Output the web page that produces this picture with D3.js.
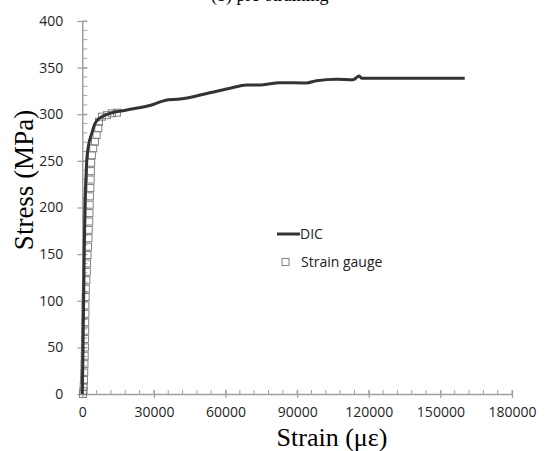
<!DOCTYPE html>
<html><head><meta charset="utf-8">
<script src="https://cdn.jsdelivr.net/npm/d3@7"></script>
<style>body{margin:0;background:#fff}</style>
</head><body>
<svg id="chart" width="547" height="451"></svg>
<script>
const xTicks = [0, 30000, 60000, 90000, 120000, 150000, 180000];
const yTicks = [0, 50, 100, 150, 200, 250, 300, 350, 400];
const dicStrain = [0, 300, 550, 800, 1100, 1500, 1850, 2500, 3900, 5300, 7400, 11600, 18600, 29700, 33000, 36000, 40000, 53400, 61800, 68800, 75000, 82700, 93900, 98100, 106500, 113400, 116000, 117000, 160200];
const dicStress = [0, 50, 100, 150, 200, 230, 250, 265, 279, 290, 296, 301, 304.5, 310.5, 313.5, 315.5, 316, 323, 327.8, 331.4, 331.5, 333.8, 333.5, 336, 337.6, 337, 341, 338.5, 338.5];
const gaugeStrain = [300, 500, 600, 700, 800, 900, 1000, 1100, 1100, 1200, 1200, 1300, 1300, 1400, 1500, 1700, 1900, 2000, 2200, 2400, 2600, 2700, 2900, 3000, 3100, 3200, 3400, 3500, 3600, 3700, 4000, 4600, 5300, 6000, 6700, 7000, 8200, 10300, 12400, 14500];
const gaugeStress = [0, 3, 8, 15, 23, 32, 41, 50, 59, 68, 77, 86, 95, 104, 113, 122, 131, 140, 149, 158, 167, 176, 185, 194, 203, 212, 221, 230, 239, 248, 256, 263.5, 270.5, 277.7, 285, 292, 297.4, 299, 301, 301.7];
const seriesNames = ["DIC", "Strain gauge"];

const svg = d3.select("#chart");
const x = d3.scaleLinear().domain([0, 180000]).range([82.3, 512]);
const y = d3.scaleLinear().domain([0, 400]).range([394, 21]);
const axisColor = "#a0a0a0";
const sans = "Open Sans, Liberation Sans, Arial, sans-serif";
const serif = "Liberation Serif, Times New Roman, serif";

// partially visible caption at top
svg.append("text").attr("x", 211).attr("y", 0.5)
  .attr("font-family", serif).attr("font-size", 18)
  .attr("fill", "#000").text("(b) pre-straining");

// minor ticks
const xMinor = d3.range(0, 180001, 6000);
const yMinor = d3.range(0, 401, 10);
const g = svg.append("g");
g.selectAll("line.xm").data(xMinor).join("line")
  .attr("x1", d => x(d)).attr("x2", d => x(d))
  .attr("y1", y(0) - 4).attr("y2", y(0))
  .attr("stroke", axisColor).attr("stroke-width", 1);
g.selectAll("line.ym").data(yMinor).join("line")
  .attr("y1", d => y(d)).attr("y2", d => y(d))
  .attr("x1", x(0)).attr("x2", x(0) + 5)
  .attr("stroke", axisColor).attr("stroke-width", 1);

// axes
const xAxis = d3.axisBottom(x).tickValues(xTicks).tickFormat(d3.format("d")).tickSizeInner(4).tickSizeOuter(0).tickPadding(9);
const yAxis = d3.axisLeft(y).tickValues(yTicks).tickFormat(d3.format("d")).tickSizeInner(5).tickSizeOuter(0).tickPadding(14);
const gx = svg.append("g").attr("transform", `translate(0,${y(0)})`).call(xAxis);
const gy = svg.append("g").attr("transform", `translate(${x(0)},0)`).call(yAxis);
[gx, gy].forEach(ax => {
  ax.select(".domain").attr("stroke", axisColor).attr("stroke-width", 1.5);
  ax.selectAll(".tick line").attr("stroke", axisColor).attr("stroke-width", 1.2);
  ax.selectAll(".tick text").attr("fill", "#262626").attr("font-size", 14)
    .attr("font-family", sans);
});
// major ticks cross the axis
gx.selectAll(".tick").append("line").attr("y1", 0).attr("y2", -4).attr("stroke", axisColor).attr("stroke-width", 1.2);
gy.selectAll(".tick").append("line").attr("x1", 0).attr("x2", 5).attr("stroke", axisColor).attr("stroke-width", 1.2);

// strain gauge squares
const gauge = gaugeStrain.map((s, i) => ({s, p: gaugeStress[i]}));
svg.append("g").selectAll("rect").data(gauge).join("rect")
  .attr("x", d => x(d.s) - 3.5).attr("y", d => y(d.p) - 3.5)
  .attr("width", 7).attr("height", 7)
  .attr("fill", "none").attr("stroke", "#808080").attr("stroke-width", 1);

// DIC line
const dic = dicStrain.map((s, i) => ({s, p: dicStress[i]}));
svg.append("path").datum(dic)
  .attr("d", d3.line().x(d => x(d.s)).y(d => y(d.p)).curve(d3.curveMonotoneX))
  .attr("fill", "none").attr("stroke", "#333").attr("stroke-width", 3);

// axis titles
svg.append("text").attr("x", 332).attr("y", 446).attr("text-anchor", "middle")
  .attr("font-family", serif).attr("font-size", 26)
  .attr("fill", "#000").text("Strain (με)");
svg.append("text").attr("transform", "translate(33,180) rotate(-90)").attr("text-anchor", "middle")
  .attr("font-family", serif).attr("font-size", 27)
  .attr("fill", "#000").text("Stress (MPa)");

// legend
const lg = svg.append("g").attr("font-family", sans).attr("font-size", 14).attr("fill", "#222");
lg.append("line").attr("x1", 277).attr("x2", 300).attr("y1", 234).attr("y2", 234).attr("stroke", "#333").attr("stroke-width", 3);
lg.append("text").attr("x", 300).attr("y", 239).text(seriesNames[0]);
lg.append("rect").attr("x", 282).attr("y", 258.5).attr("width", 7).attr("height", 7).attr("fill", "none").attr("stroke", "#808080");
lg.append("text").attr("x", 301).attr("y", 267).text(seriesNames[1]);
</script>
</body></html>
